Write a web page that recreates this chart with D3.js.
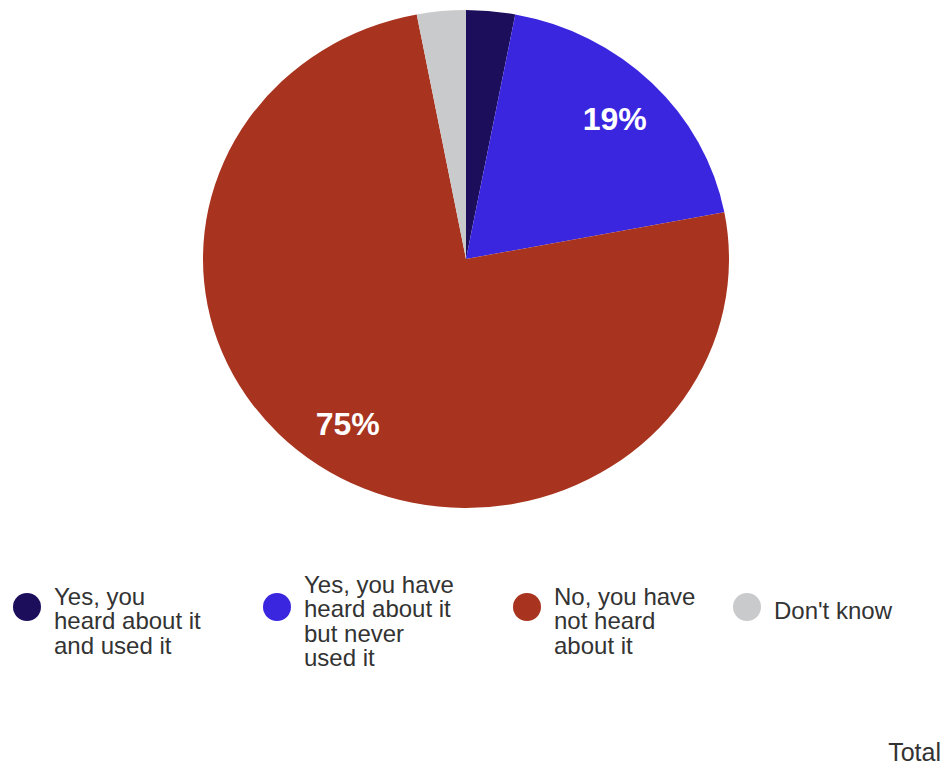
<!DOCTYPE html>
<html>
<head>
<meta charset="utf-8">
<script src="https://cdn.jsdelivr.net/npm/d3@7"></script>
<style>
  body { margin: 0; background: #fff; }
  svg { display: block; font-family: "Liberation Sans", Arial, sans-serif; }
</style>
</head>
<body>
<svg id="chart"></svg>
<script>
const categories = [
  "Yes, you heard about it and used it",
  "Yes, you have heard about it but never used it",
  "No, you have not heard about it",
  "Don't know"
];
const legendLines = [
  ["Yes, you", "heard about it", "and used it"],
  ["Yes, you have", "heard about it", "but never", "used it"],
  ["No, you have", "not heard", "about it"],
  ["Don't know"]
];
const values = [3, 19, 75, 3];
const colors = ["#1d0e5c", "#3b26e0", "#a8331e", "#c9cacc"];
const footer = "Total";

const width = 943;
const height = 771;
const cx = 466, cy = 259;
const rx = 263, ry = 249;

const svg = d3.select("#chart")
    .attr("width", width)
    .attr("height", height);

const pie = d3.pie().sort(null).value(d => d.value);
const arcs = pie(values.map((v, i) => ({ value: v, key: categories[i], i })));

const arc = d3.arc().innerRadius(0).outerRadius(rx);
const labelArc = d3.arc().innerRadius(rx * 0.8).outerRadius(rx * 0.8);

// pie is slightly squashed vertically in the reference
const g = svg.append("g")
    .attr("transform", `translate(${cx},${cy})`);

g.append("g")
    .attr("transform", `scale(1,${ry / rx})`)
  .selectAll("path")
  .data(arcs)
  .join("path")
    .attr("d", arc)
    .attr("fill", d => colors[d.data.i]);

// only slices big enough get a label
g.selectAll("text.lbl")
  .data(arcs.filter(d => d.data.value >= 10))
  .join("text")
    .attr("class", "lbl")
    .attr("x", d => labelArc.centroid(d)[0])
    .attr("y", d => labelArc.centroid(d)[1] * ry / rx)
    .attr("dy", "0.36em")
    .attr("text-anchor", "middle")
    .attr("fill", "#fff")
    .attr("font-weight", "bold")
    .attr("font-size", 32)
    .text(d => d.data.value + "%");

// legend
const xs = [27, 277, 527, 747];
const lineH = 24.5;

const leg = svg.append("g")
  .selectAll("g")
  .data(categories)
  .join("g")
    .attr("transform", (d, i) => `translate(${xs[i]},0)`);

leg.append("circle")
    .attr("cx", 0)
    .attr("cy", 607)
    .attr("r", 14)
    .attr("fill", (d, i) => colors[i]);

leg.append("text")
    .attr("font-size", 24)
    .attr("fill", "#333")
  .selectAll("tspan")
  .data((d, i) => legendLines[i].map((t, j, a) => ({ t, j, n: a.length })))
  .join("tspan")
    .attr("x", 27)
    .attr("y", d => (d.n === 1 ? 611 : 621) + (d.j - (d.n - 1) / 2) * lineH)
    .attr("dy", "0.35em")
    .text(d => d.t);

svg.append("text")
    .attr("x", 941)
    .attr("y", 752)
    .attr("dy", "0.35em")
    .attr("text-anchor", "end")
    .attr("font-size", 25)
    .attr("fill", "#333")
    .text(footer);
</script>
</body>
</html>
